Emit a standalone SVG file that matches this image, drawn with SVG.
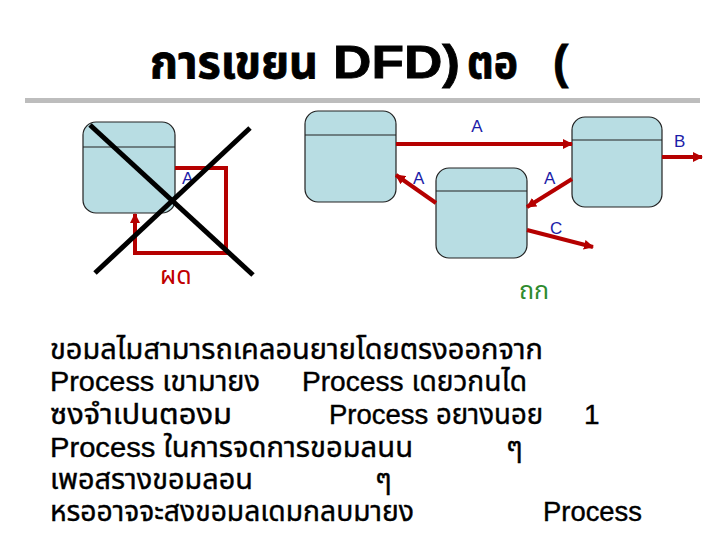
<svg xmlns="http://www.w3.org/2000/svg" width="720" height="540" viewBox="0 0 720 540">
<style>
.node{fill:#b8dde3;stroke:#222;stroke-width:1.2}
.div{stroke:#222;stroke-width:1.2}
.flow{fill:none;stroke:#b50000;stroke-width:4}
.lbl{font-family:"Liberation Sans",Arial,sans-serif;font-size:17px;fill:#1c1ca8}
.body{font-family:"Liberation Sans","Noto Sans Thai","Noto Sans",sans-serif;font-size:28px;fill:#000;stroke:#000;stroke-width:0.4}
.title{font-family:"Liberation Sans","Noto Sans Thai","Noto Sans",sans-serif;font-size:46px;font-weight:bold;fill:#000;stroke:#000;stroke-width:0.8}
</style>
<defs>
<marker id="ah" viewBox="0 0 10 10" refX="9" refY="5" markerWidth="10" markerHeight="10" markerUnits="userSpaceOnUse" orient="auto">
<path d="M0,0 L10,5 L0,10 z" fill="#b50000"/>
</marker>
</defs>
<rect width="720" height="540" fill="#fff"/>
<g id="title">
<text class="title" x="150" y="78" textLength="168" lengthAdjust="spacingAndGlyphs">การเขยน</text>
<text class="title" x="333" y="78" textLength="127" lengthAdjust="spacingAndGlyphs">DFD)</text>
<text class="title" x="467" y="78" textLength="51" lengthAdjust="spacingAndGlyphs">ตอ</text>
<text class="title" x="553" y="78">(</text>
<rect x="25" y="98" width="675" height="5" fill="#bdbdbd"/>
</g>
<g id="node-left">
<rect class="node" x="83" y="122" width="92" height="91" rx="13"/>
<line class="div" x1="83" y1="147" x2="175" y2="147"/>
</g>
<g id="node-top">
<rect class="node" x="305" y="111" width="91" height="91" rx="13"/>
<line class="div" x1="305" y1="135" x2="396" y2="135"/>
</g>
<g id="node-right">
<rect class="node" x="572" y="117" width="90" height="90" rx="13"/>
<line class="div" x1="572" y1="140" x2="662" y2="140"/>
</g>
<g id="node-mid">
<rect class="node" x="436" y="168" width="91" height="90" rx="13"/>
<line class="div" x1="436" y1="191" x2="527" y2="191"/>
</g>
<g id="connectors">
<path class="flow" d="M175,168 H226 V253 H135 V214" marker-end="url(#ah)"/>
<line class="flow" x1="396" y1="144" x2="572" y2="144" marker-end="url(#ah)"/>
<line class="flow" x1="662" y1="157" x2="702" y2="157" marker-end="url(#ah)"/>
<line class="flow" x1="436" y1="203" x2="396" y2="175" marker-end="url(#ah)"/>
<line class="flow" x1="572" y1="179" x2="527" y2="207" marker-end="url(#ah)"/>
<line class="flow" x1="527" y1="230" x2="593" y2="247" marker-end="url(#ah)"/>
</g>
<g id="labels">
<text class="lbl" x="182" y="184">A</text>
<text class="lbl" x="477" y="132" text-anchor="middle">A</text>
<text class="lbl" x="674" y="147">B</text>
<text class="lbl" x="413" y="184">A</text>
<text class="lbl" x="544" y="184">A</text>
<text class="lbl" x="550" y="234">C</text>
<text x="160" y="284" style="font-family:'Liberation Sans','Noto Sans Thai',sans-serif;font-size:25px;fill:#c00000">ผด</text>
<text x="519" y="299" style="font-family:'Liberation Sans','Noto Sans Thai',sans-serif;font-size:25px;fill:#2e8b2e">ถก</text>
</g>
<g id="cross">
<line x1="90" y1="125" x2="253" y2="275" stroke="#000" stroke-width="5"/>
<line x1="250" y1="128" x2="95" y2="273" stroke="#000" stroke-width="5"/>
</g>
<g id="body">
<text class="body" x="50" y="359" textLength="493" lengthAdjust="spacingAndGlyphs">ขอมลไมสามารถเคลอนยายโดยตรงออกจาก</text>
<text class="body" x="50" y="391" textLength="210" lengthAdjust="spacingAndGlyphs">Process เขามายง</text>
<text class="body" x="302" y="391" textLength="225" lengthAdjust="spacingAndGlyphs">Process เดยวกนได</text>
<text class="body" x="50" y="424" textLength="182" lengthAdjust="spacingAndGlyphs">ซงจำเปนตองม</text>
<text class="body" x="329" y="424" textLength="214" lengthAdjust="spacingAndGlyphs">Process อยางนอย</text>
<text class="body" x="584" y="424">1</text>
<text class="body" x="50" y="457" textLength="363" lengthAdjust="spacingAndGlyphs">Process ในการจดการขอมลนน</text>
<text class="body" x="506" y="457">ๆ</text>
<text class="body" x="50" y="489" textLength="203" lengthAdjust="spacingAndGlyphs">เพอสรางขอมลอน</text>
<text class="body" x="375" y="489">ๆ</text>
<text class="body" x="50" y="521" textLength="364" lengthAdjust="spacingAndGlyphs">หรออาจจะสงขอมลเดมกลบมายง</text>
<text class="body" x="543" y="521" textLength="99" lengthAdjust="spacingAndGlyphs">Process</text>
</g>
</svg>
